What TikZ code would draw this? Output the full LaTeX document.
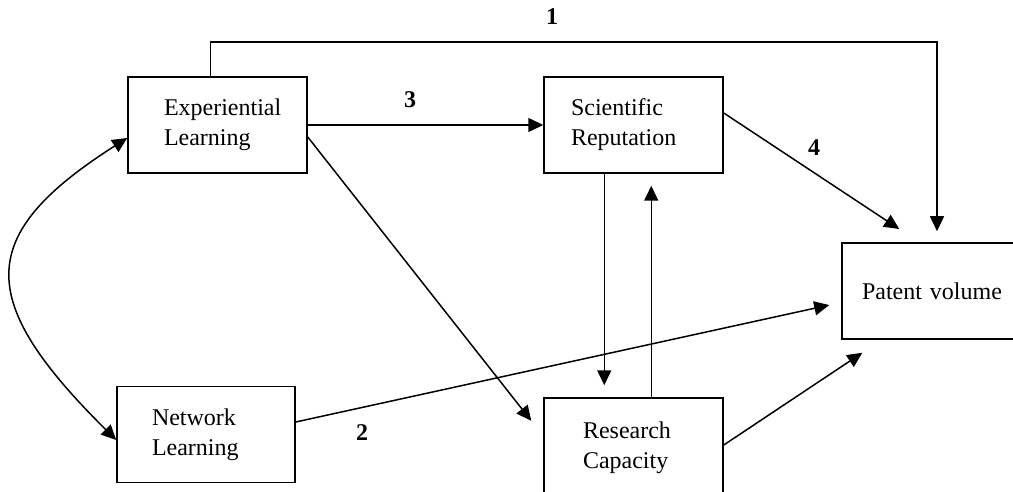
\documentclass[tikz,border=0pt]{standalone}
\usepackage{fontspec}
\setmainfont{Liberation Serif}
\usetikzlibrary{arrows.meta}
\begin{document}
\begin{tikzpicture}[x=1pt,y=-1pt,
  box/.style={draw, line width=1.5pt, minimum height=96pt, align=left,
    font=\fontsize{24}{30}\selectfont, inner ysep=0pt},
  arr/.style={line width=1.5pt, -{Triangle[length=15pt,width=14pt]}},
  dblarr/.style={line width=1.5pt, {Triangle[length=15pt,width=14pt]}-{Triangle[length=15pt,width=14pt]}},
  num/.style={font=\bfseries\fontsize{24}{28}\selectfont, inner sep=0pt}]
\useasboundingbox (0,0) rectangle (1013,492);
\clip (0,0) rectangle (1013,492);

\node[box, inner xsep=36pt, text width=107pt] (EL) at (217.5,125) {Experiential\\Learning};
\node[box, inner xsep=27pt, text width=125pt] (SR) at (633.5,125) {Scientific\\Reputation};
\node[box, inner xsep=35pt, text width=108pt] (NL) at (206,434.5) {Network\\Learning};
\node[box, inner xsep=39pt, text width=101pt, minimum height=100pt] (RC) at (633.5,448) {Research\\Capacity};
\node[box, inner xsep=20pt, text width=150pt] (PV) at (937,291) {Patent volume};

\coordinate (c1) at (937,42);

% 1
\draw[arr, shorten >=11pt] ([xshift=83pt]EL.north west) |- (c1) -- (c1 |- PV.north);
% 3
\draw[arr] (EL.east) -- (SR.west);
% 4
\draw[arr, shorten >=24pt] ([yshift=12pt]SR.east) -- ([xshift=78pt]PV.north west);
% 2
\draw[arr, shorten >=12.3pt] ([yshift=12.5pt]NL.east) -- ([yshift=-11.4pt]PV.west);
% EL -> RC
\draw[arr, shorten >=19.3pt] ([yshift=-12pt]EL.east) -- ([yshift=12pt]RC.west);
% SR -> RC
\draw[arr, shorten >=12pt] ([xshift=61pt]SR.south west) -- ([xshift=61pt]SR.south west |- RC.north);
% RC -> SR
\draw[arr, shorten >=12pt] ([xshift=108pt]RC.north west) -- ([xshift=108pt]RC.north west |- SR.south);
% RC -> PV
\draw[arr, shorten >=23.5pt] ([yshift=3pt]RC.east) -- ([xshift=40.6pt]PV.south west);
% EL <-> NL
\draw[dblarr] ([yshift=-13pt]EL.west) .. controls (-25,235) and (-25,300) .. ([yshift=-5.5pt]NL.west);

\node[num] (n1) at (552,17) {1};
\node[num] (n3) at (410,100) {3};
\node[num] (n4) at (814,148) {4};
\node[num] (n2) at (362,433) {2};
\end{tikzpicture}
\end{document}
